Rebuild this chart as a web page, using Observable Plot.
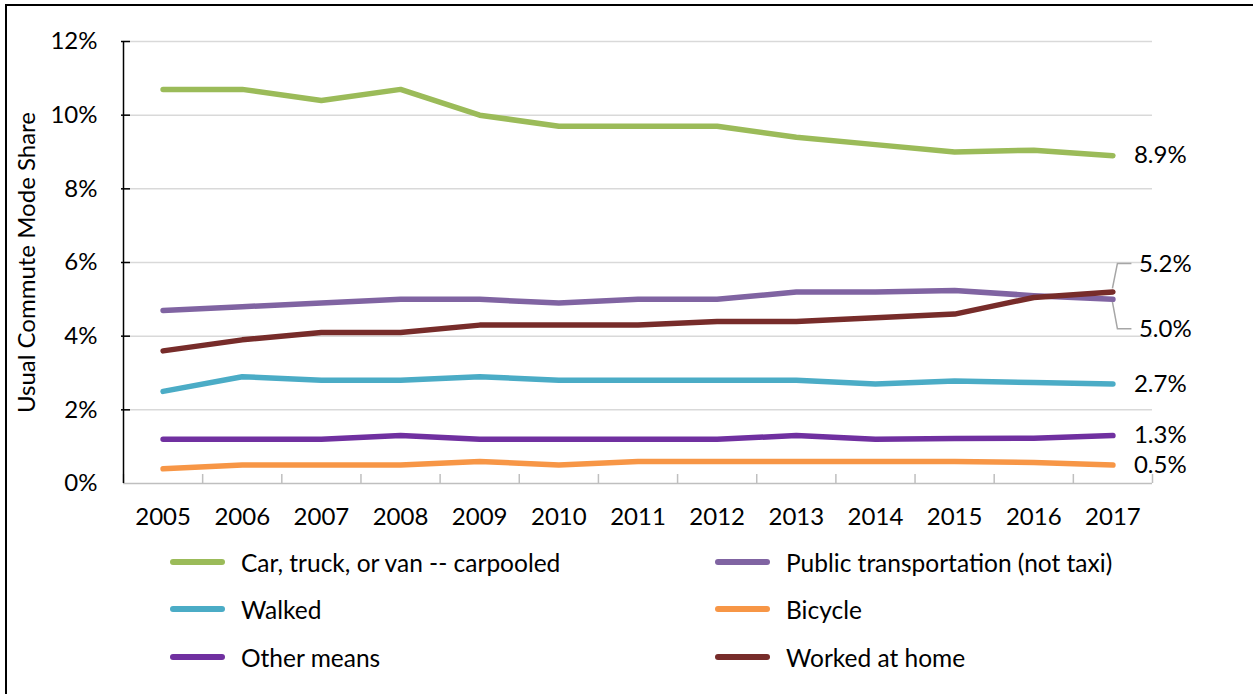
<!DOCTYPE html>
<html><head><meta charset="utf-8">
<script src="https://cdn.jsdelivr.net/npm/d3@7"></script>
<script src="https://cdn.jsdelivr.net/npm/@observablehq/plot@0.6"></script>
<style>
body{margin:0;background:#fff;font-family:Lato,"Open Sans",sans-serif;}
#wrap{position:relative;width:1253px;height:694px;overflow:hidden;background:#fff;}
#frame{position:absolute;left:5px;top:4px;width:1400px;height:800px;border-left:2px solid #000;border-top:2px solid #000;}
#chart{position:absolute;left:0;top:0;}
.lg{position:absolute;display:flex;align-items:center;font-size:24.5px;color:#000;white-space:nowrap;}
.sw{display:inline-block;width:55px;height:5.5px;border-radius:3px;margin-right:16px;}
</style></head>
<body><div id="wrap"><div id="frame"></div><div id="chart"></div><div id="legend"></div></div>
<script>
const years = [2005,2006,2007,2008,2009,2010,2011,2012,2013,2014,2015,2016,2017];
const seriesNames = ["Car, truck, or van -- carpooled","Public transportation (not taxi)","Walked","Bicycle","Other means","Worked at home"];
const seriesColors = ["#9BBB59","#8064A2","#4BACC6","#F79646","#7030A0","#772C2A"];
const carpooled     = [10.7,10.7,10.4,10.7,10.0,9.7,9.7,9.7,9.4,9.2,9.0,9.05,8.9];
const publicTransit = [4.7,4.8,4.9,5.0,5.0,4.9,5.0,5.0,5.2,5.2,5.24,5.1,5.0];
const walked        = [2.5,2.9,2.8,2.8,2.9,2.8,2.8,2.8,2.8,2.7,2.78,2.74,2.7];
const bicycle       = [0.4,0.5,0.5,0.5,0.6,0.5,0.6,0.6,0.6,0.6,0.6,0.57,0.5];
const otherMeans    = [1.2,1.2,1.2,1.3,1.2,1.2,1.2,1.2,1.3,1.2,1.22,1.23,1.3];
const workedAtHome  = [3.6,3.9,4.1,4.1,4.3,4.3,4.3,4.4,4.4,4.5,4.6,5.05,5.2];
const endLabels = ["8.9%","5.0%","2.7%","0.5%","1.3%","5.2%"];
const yTicks = [0,2,4,6,8,10,12];
const yTitle = "Usual Commute Mode Share";

const seriesValues = [carpooled, publicTransit, walked, bicycle, otherMeans, workedAtHome];
const long = [];
seriesNames.forEach((s,i)=>years.forEach((y,j)=>long.push({series:s, year:y, value:seriesValues[i][j]})));
const ends = seriesNames.map((s,i)=>({series:s, year:years[years.length-1], value:seriesValues[i][years.length-1], label:endLabels[i]}));
const plainEnds = ends.filter(d=>d.series!=="Public transportation (not taxi)" && d.series!=="Worked at home");
const upEnd = ends.filter(d=>d.series==="Worked at home");
const downEnd = ends.filter(d=>d.series==="Public transportation (not taxi)");
const boundaries = years.map(y=>y-0.5).concat([years[years.length-1]+0.5]);
const x0 = years[0]-0.5, x1 = years[years.length-1]+0.5;

const plot = Plot.plot({
  width:1253, height:540,
  marginLeft:123, marginRight:101, marginTop:41, marginBottom:57,
  style:{fontFamily:"Lato, 'Open Sans', sans-serif", fontSize:"24px", color:"#000", background:"transparent"},
  x:{domain:[x0,x1]},
  y:{domain:[0,12]},
  color:{domain:seriesNames, range:seriesColors},
  marks:[
    Plot.ruleY(yTicks.slice(1), {y:d=>d, stroke:"#d9d9d9", strokeWidth:1.5}),
    Plot.ruleY([0], {y:d=>d, stroke:"#bfbfbf", strokeWidth:1.5}),
    Plot.tickX(boundaries, {x:d=>d, stroke:"#bfbfbf", strokeWidth:1.5, insetTop:433}),
    Plot.ruleX([x0], {x:d=>d, y1:0, y2:12, stroke:"#000", strokeWidth:1.5}),
    Plot.tickY(yTicks.slice(1), {y:d=>d, stroke:"#000", strokeWidth:1.5, insetLeft:-2, insetRight:1022}),
    Plot.axisY({ticks:yTicks, tickSize:0, tickPadding:26, tickFormat:d=>d+"%", label:yTitle, labelAnchor:"center", labelArrow:"none", labelOffset:106, fontSize:24}),
    Plot.axisX({ticks:years, tickSize:0, tickPadding:24, tickFormat:d=>String(d), label:null, fontSize:24}),
    Plot.line(long, {x:"year", y:"value", z:"series", stroke:"series", strokeWidth:5.5, strokeLinecap:"round", strokeLinejoin:"round"}),
    Plot.text(plainEnds, {x:"year", y:"value", text:"label", dx:21, textAnchor:"start", fontSize:24, fill:"#000"}),
    Plot.text(upEnd, {x:"year", y:"value", text:"label", dx:26, dy:-28, textAnchor:"start", fontSize:24, fill:"#000"}),
    Plot.text(downEnd, {x:"year", y:"value", text:"label", dx:26, dy:30, textAnchor:"start", fontSize:24, fill:"#000"})
  ]
});
document.getElementById("chart").appendChild(plot);

// leader lines for the offset labels, positioned through the plot's scales
const sx = plot.scale("x"), sy = plot.scale("y");
const svg = d3.select(plot);
[[upEnd[0], -1], [downEnd[0], 1]].forEach(([d, s])=>{
  const px = sx.apply(d.year), py = sy.apply(d.value);
  const ty = py + (s < 0 ? -28 : 30);
  svg.append("path")
    .attr("d", `M${px},${py + s*3}L${px+5},${ty}L${px+19},${ty}`)
    .attr("fill","none").attr("stroke","#a6a6a6").attr("stroke-width",1.5);
});

// legend
const lg = document.getElementById("legend");
const colLeft = [170, 715], rowTop = [562, 609, 657];
seriesNames.forEach((s,i)=>{
  const el = document.createElement("div");
  el.className = "lg";
  el.style.left = colLeft[i%2] + "px";
  el.style.top = (rowTop[Math.floor(i/2)] - 15) + "px";
  el.style.height = "30px";
  el.innerHTML = `<span class="sw" style="background:${seriesColors[i]}"></span><span>${s}</span>`;
  lg.appendChild(el);
});
</script></body></html>
